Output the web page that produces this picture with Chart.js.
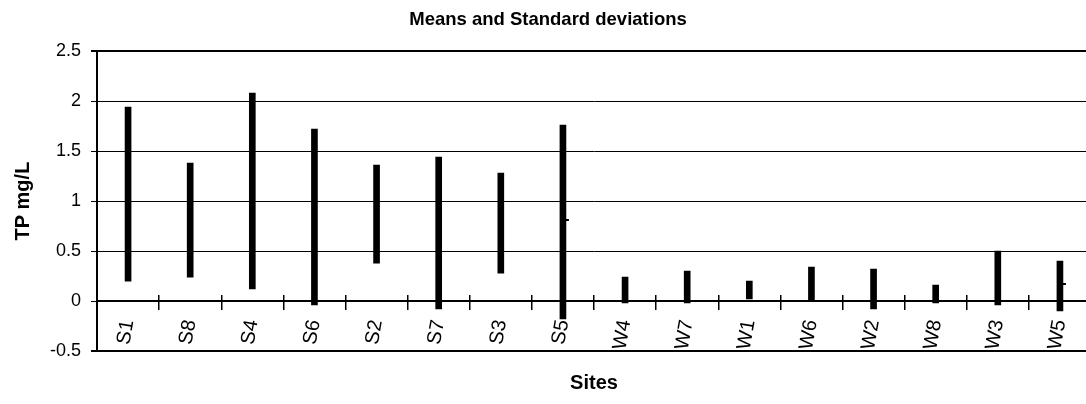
<!DOCTYPE html>
<html>
<head>
<meta charset="utf-8">
<script src="https://cdn.jsdelivr.net/npm/chart.js@4/dist/chart.umd.min.js"></script>
<style>
  html, body { margin: 0; padding: 0; background: #fff; overflow: hidden; }
  #wrap { width: 1097px; height: 404px; }
</style>
</head>
<body>
<div id="wrap"><canvas id="grafico"></canvas></div>
<script>
// sites, in the order of the chart
sitios = ["S1", "S8", "S4", "S6", "S2", "S7", "S3", "S5", "W4", "W7", "W1", "W6", "W2", "W8", "W3", "W5"];
// mean - sd / mean + sd (TP mg/L)
bajos = [0.20, 0.24, 0.12, -0.04, 0.38, -0.08, 0.28, -0.18, -0.02, -0.02, 0.02, 0.00, -0.08, -0.02, -0.04, -0.10];
altos = [1.94, 1.38, 2.08, 1.72, 1.36, 1.44, 1.28, 1.76, 0.24, 0.30, 0.20, 0.34, 0.32, 0.16, 0.50, 0.40];
// means, only the visible ticks
medias = [null, null, null, null, null, null, null, 0.81, null, null, null, null, null, null, null, 0.17];
ticksY = [-0.5, 0, 0.5, 1, 1.5, 2, 2.5];

fuente = "'Liberation Sans', Arial, sans-serif";

rangos = sitios.map(function (s, i) { return [bajos[i], altos[i]]; });

// little tick on the right of the bar for the mean
marca = document.createElement("canvas");
marca.width = 20;
marca.height = 2;
ctxMarca = marca.getContext("2d");
ctxMarca.fillStyle = "#000";
ctxMarca.fillRect(10, 0, 6, 2);

new Chart(document.getElementById("grafico").getContext("2d"), {
  type: "bar",
  data: {
    labels: sitios,
    datasets: [
      { label: "sd", data: rangos, backgroundColor: "#000", borderWidth: 0, barThickness: 6 },
      { type: "line", label: "mean", data: medias, showLine: false, pointStyle: marca, pointRadius: 5 }
    ]
  },
  options: {
    responsive: true,
    maintainAspectRatio: false,
    animation: false,
    layout: { padding: { left: 0, right: 1, top: 0, bottom: 0 } },
    plugins: {
      legend: { display: false },
      tooltip: { enabled: false },
      title: {
        display: true,
        text: "Means and Standard deviations",
        color: "#000",
        font: { family: fuente, size: 18.5, weight: "bold" },
        padding: { top: 9, bottom: 20 }
      }
    },
    scales: {
      y: {
        min: -0.5,
        max: 2.5,
        afterBuildTicks: function (scale) { scale.ticks = ticksY.map(function (v) { return { value: v }; }); },
        afterFit: function (scale) { scale.width = 97; },
        ticks: {
          color: "#000",
          padding: 10,
          font: { family: fuente, size: 18 },
          callback: function (v) { return String(v); }
        },
        grid: {
          color: "#000",
          tickLength: 6,
          lineWidth: function (c) { return (c.tick && (c.tick.value === 2.5 || c.tick.value === -0.5)) ? 2 : 1; }
        },
        border: { display: true, color: "#000", width: 2 },
        title: {
          display: true,
          text: "TP mg/L",
          color: "#000",
          font: { family: fuente, size: 20, weight: "bold" },
          padding: { top: 11, bottom: 0 }
        }
      },
      x: {
        type: "category",
        position: { y: 0 },
        offset: true,
        grid: { offset: true, drawOnChartArea: false, color: "#000", tickLength: 8, lineWidth: 1.5 },
        border: { display: true, color: "#000", width: 2 },
        ticks: { color: "#000", padding: 9, minRotation: 80, maxRotation: 80, autoSkip: false, font: { family: fuente, size: 20 } }
      },
      x2: {
        type: "category",
        position: { y: 0 },
        offset: true,
        grid: { offset: true, drawOnChartArea: false, color: "#000", tickLength: -6, lineWidth: 1.5 },
        border: { display: false },
        ticks: { display: false }
      },
      xt: {
        type: "category",
        position: "bottom",
        grid: { display: false },
        border: { display: false },
        ticks: { display: false },
        title: {
          display: true,
          text: "Sites",
          color: "#000",
          font: { family: fuente, size: 20, weight: "bold" },
          padding: { top: 12, bottom: 9 }
        }
      }
    }
  }
});
</script>
</body>
</html>
